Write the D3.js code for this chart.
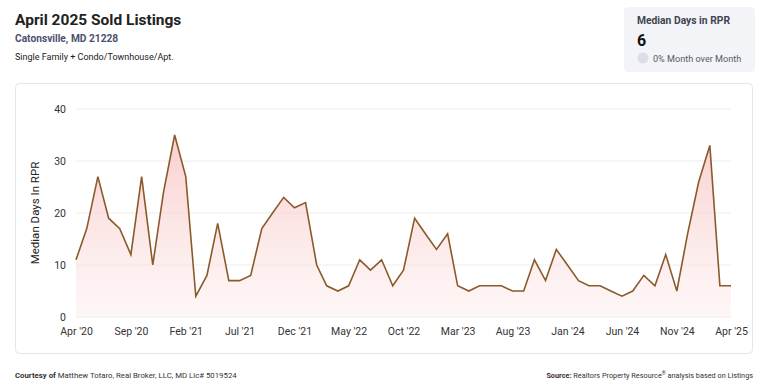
<!DOCTYPE html>
<html>
<head>
<meta charset="utf-8">
<script src="https://cdn.jsdelivr.net/npm/d3@7"></script>
<style>
  body { margin: 0; background: #fff; font-family: Roboto, "Noto Sans", sans-serif; }
  svg text { font-family: Roboto, "Noto Sans", sans-serif; }
</style>
</head>
<body>
<div id="grafico"></div>
<script>
// Datos: mediana de dias en RPR, abril 2020 a abril 2025 (mensual)
const meses = d3.timeMonths(new Date(2020, 3, 1), new Date(2025, 4, 1))
const valores = [
  11, 17, 27, 19, 17, 12, 27, 10, 24, 35, 27, 4, 8, 18, 7, 7, 8, 17, 20, 23,
  21, 22, 10, 6, 5, 6, 11, 9, 11, 6, 9, 19, 16, 13, 16, 6, 5, 6, 6, 6,
  5, 5, 11, 7, 13, 10, 7, 6, 6, 5, 4, 5, 8, 6, 12, 5, 16, 26, 33, 6, 6
]
const ticksY = [0, 10, 20, 30, 40]
const etiquetasX = ["Apr '20", "Sep '20", "Feb '21", "Jul '21", "Dec '21", "May '22", "Oct '22",
  "Mar '23", "Aug '23", "Jan '24", "Jun '24", "Nov '24", "Apr '25"]

const data = meses.map((m, i) => ({ fecha: m, valor: valores[i] }))

const anchoTotal = 768
const altoTotal = 390
const margins = { top: 109, right: 37, bottom: 73, left: 76 }
const ancho = anchoTotal - margins.left - margins.right
const alto = altoTotal - margins.top - margins.bottom

const svg = d3.select("#grafico")
  .append("svg")
  .attr("width", anchoTotal)
  .attr("height", altoTotal)

// Encabezado
svg.append("text").attr("x", 15).attr("y", 25)
  .attr("font-size", 15.5).attr("font-weight", 700).attr("fill", "#222")
  .text("April 2025 Sold Listings")
svg.append("text").attr("x", 15).attr("y", 42)
  .attr("font-size", 10.2).attr("font-weight", 700).attr("fill", "#4b5270")
  .text("Catonsville, MD 21228")
svg.append("text").attr("x", 15).attr("y", 60)
  .attr("font-size", 9).attr("fill", "#222")
  .text("Single Family + Condo/Townhouse/Apt.")

// Caja de resumen
const caja = svg.append("g")
caja.append("rect").attr("x", 624).attr("y", 7).attr("width", 131).attr("height", 65)
  .attr("rx", 4).attr("fill", "#f3f4f7")
caja.append("text").attr("x", 637).attr("y", 24)
  .attr("font-size", 10.3).attr("font-weight", 700).attr("fill", "#3f4350")
  .text("Median Days in RPR")
caja.append("text").attr("x", 637).attr("y", 46)
  .attr("font-size", 16).attr("font-weight", 700).attr("fill", "#111")
  .text("6")
caja.append("circle").attr("cx", 643).attr("cy", 58).attr("r", 5.5).attr("fill", "#dcdde6")
caja.append("text").attr("x", 653).attr("y", 61.5)
  .attr("font-size", 9.1).attr("fill", "#555a66")
  .text("0% Month over Month")

// Tarjeta del grafico
svg.append("rect").attr("x", 15.5).attr("y", 83.5).attr("width", 737).attr("height", 270)
  .attr("rx", 4).attr("fill", "#fff").attr("stroke", "#e4e6eb")

const x = d3.scaleTime().domain(d3.extent(meses)).range([0, ancho])
const y = d3.scaleLinear().domain([0, 40]).range([alto, 0])

const g = svg.append("g").attr("transform", `translate(${margins.left}, ${margins.top})`)

// Gradiente del area
const defs = svg.append("defs")
const grad = defs.append("linearGradient").attr("id", "relleno")
  .attr("x1", 0).attr("y1", 0).attr("x2", 0).attr("y2", 1)
grad.append("stop").attr("offset", "0%").attr("stop-color", "#f9c6c6").attr("stop-opacity", 0.85)
grad.append("stop").attr("offset", "100%").attr("stop-color", "#fdeeee").attr("stop-opacity", 0.5)

// Lineas de cuadricula
g.append("g").selectAll("line").data(ticksY).join("line")
  .attr("x1", 0).attr("x2", ancho)
  .attr("y1", d => y(d)).attr("y2", d => y(d))
  .attr("stroke", "#ececec")

const yAxis = g.append("g").call(d3.axisLeft(y).tickValues(ticksY).tickSize(0).tickPadding(10))
yAxis.select(".domain").remove()
yAxis.selectAll("text").attr("font-size", 10.5).attr("fill", "#333")

const ticksFecha = d3.range(0, meses.length, 5).map(i => meses[i])
const xAxis = g.append("g").attr("transform", `translate(0, ${alto})`)
  .call(d3.axisBottom(x).tickValues(ticksFecha).tickSize(0).tickPadding(11)
    .tickFormat((d, i) => etiquetasX[i]))
xAxis.select(".domain").remove()
xAxis.selectAll("text").attr("font-size", 10.5).attr("fill", "#333")

svg.append("text")
  .attr("transform", `translate(39, ${margins.top + alto / 2}) rotate(-90)`)
  .attr("text-anchor", "middle").attr("font-size", 11.5).attr("fill", "#222")
  .text("Median Days In RPR")

const area = d3.area().x(d => x(d.fecha)).y0(y(0)).y1(d => y(d.valor))
const linea = d3.line().x(d => x(d.fecha)).y(d => y(d.valor))

g.append("path").datum(data).attr("d", area).attr("fill", "url(#relleno)")
g.append("path").datum(data).attr("d", linea)
  .attr("fill", "none").attr("stroke", "#8a5a2b").attr("stroke-width", 1.6)
  .attr("stroke-linejoin", "miter")

// Pie
const pie1 = svg.append("text").attr("x", 15).attr("y", 378).attr("font-size", 7.8).attr("fill", "#333")
pie1.append("tspan").attr("font-weight", 700).text("Courtesy of ")
pie1.append("tspan").text("Matthew Totaro, Real Broker, LLC, MD Lic# 5019524")

const pie2 = svg.append("text").attr("x", 753).attr("y", 378).attr("font-size", 7.3)
  .attr("text-anchor", "end").attr("fill", "#333")
pie2.append("tspan").attr("font-weight", 700).text("Source: ")
pie2.append("tspan").text("Realtors Property Resource")
pie2.append("tspan").attr("font-size", 5).attr("dy", -3).text("®")
pie2.append("tspan").attr("dy", 3).text(" analysis based on Listings")
</script>
</body>
</html>
